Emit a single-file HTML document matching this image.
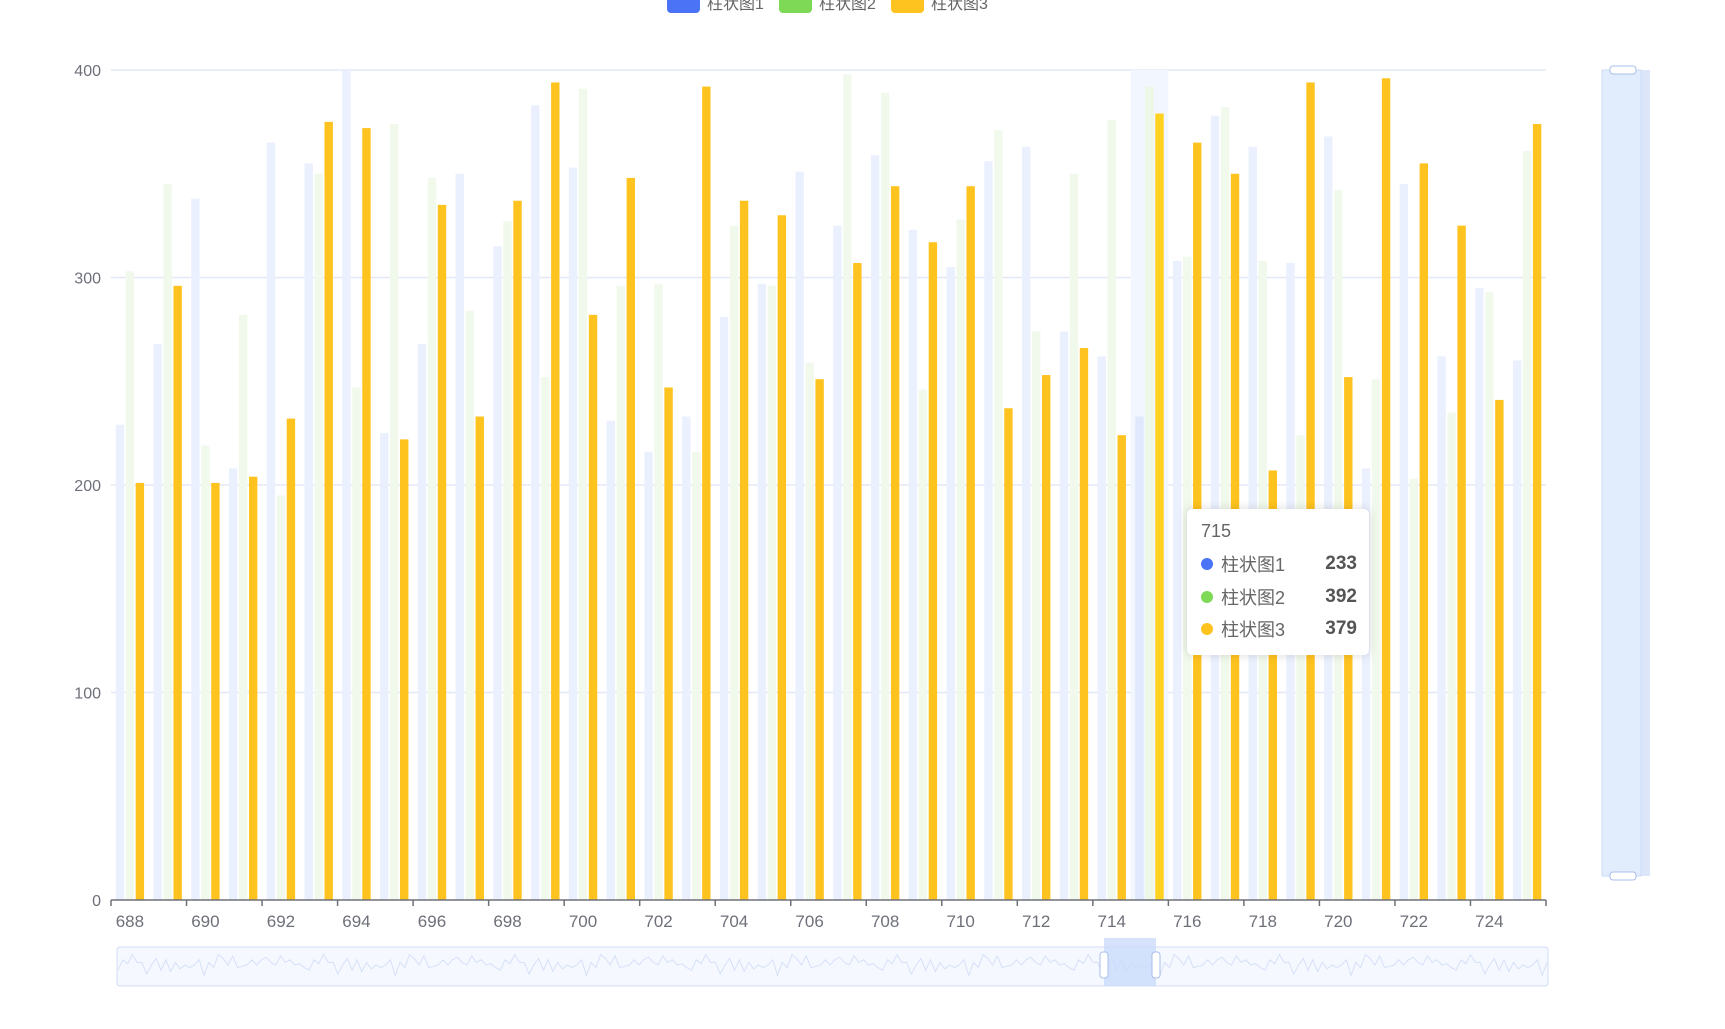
<!DOCTYPE html>
<html><head><meta charset="utf-8"><style>
html,body{margin:0;padding:0;background:#fff;width:1725px;height:1029px;overflow:hidden;font-family:"Liberation Sans","Noto Sans CJK SC",sans-serif}
.row{position:absolute;left:14px;width:156px;display:flex;align-items:center;height:24px}
.row b{margin-left:auto;color:#555;font-size:19px}
.dot{display:inline-block;width:12px;height:12px;border-radius:6px;margin-right:8px}
</style></head><body>
<svg id="chart" width="1725" height="1029" viewBox="0 0 1725 1029" style="position:absolute;left:0;top:0"></svg>
<div style="position:absolute;left:1187px;top:509px;width:182px;height:146px;background:#fff;border-radius:5px;box-shadow:0 0 10px rgba(0,0,0,0.15);font-family:'Liberation Sans','Noto Sans CJK SC',sans-serif;color:#666;font-size:18px;">
  <div style="position:absolute;left:14px;top:12px">715</div>
  <div class="row" style="top:43px"><span class="dot" style="background:#4a74f5"></span>柱状图1<b>233</b></div>
  <div class="row" style="top:76px"><span class="dot" style="background:#7ed957"></span>柱状图2<b>392</b></div>
  <div class="row" style="top:108px"><span class="dot" style="background:#ffc31f"></span>柱状图3<b>379</b></div>
</div>
<script>
const categories = [688,689,690,691,692,693,694,695,696,697,698,699,700,701,702,703,704,705,706,707,708,709,710,711,712,713,714,715,716,717,718,719,720,721,722,723,724,725];
const series1 = [229,268,338,208,365,355,400,225,268,350,315,383,353,231,216,233,281,297,351,325,359,323,305,356,363,274,262,233,308,378,363,307,368,208,345,262,295,260];
const series2 = [303,345,219,282,195,350,247,374,348,284,327,252,391,296,297,216,325,296,259,398,389,246,328,371,274,350,376,392,310,382,308,224,342,251,203,235,293,361];
const series3 = [201,296,201,204,232,375,372,222,335,233,337,394,282,348,247,392,337,330,251,307,344,317,344,237,253,266,224,379,365,350,207,394,252,396,355,325,241,374];
const yTicks = [0,100,200,300,400];
const seriesNames = ['柱状图1','柱状图2','柱状图3'];
const sparkVals = [3,8,2,9,5,7,1,6,9,4,8,2,7,5,9,3,6,8,1,7,4,9,6,2,8,5,3,9,7,1,6,8,4,2,9,5,7,3,8,6];

const NS='http://www.w3.org/2000/svg';
const svg=document.getElementById('chart');
function mk(tag,attrs,parent){const e=document.createElementNS(NS,tag);for(const k in attrs)e.setAttribute(k,attrs[k]);(parent||svg).appendChild(e);return e;}
const X0=111,X1=1546,Y0=900,Y1=70,YMAX=400;
const band=(X1-X0)/categories.length;
const y=v=>Y0-(v/YMAX)*(Y0-Y1);
const xb=i=>X0+i*band;

yTicks.forEach(t=>{
  if(t>0){const g=mk('line',{x1:X0,x2:X1,y1:y(t),y2:y(t),stroke:'#e3e8f7','stroke-width':1.5});
  
  }
  const l=mk('text',{x:X0-10,y:y(t)+6,'text-anchor':'end','font-size':16,fill:'#6e7079'});
  l.textContent=t;
  
  
});
const hi=categories.indexOf(715);
const sh=mk('rect',{x:xb(hi),y:Y1,width:band,height:Y0-Y1,fill:'#f2f6fe'});



const bw=8.4,gap=1.6,gw=3*bw+2*gap;
const cols=['#eaf0fd','#f1f9ec','#ffc31f'];
const colsHi=['#dfe8fc','#edf7e6','#ffd21f'];
[series1,series2,series3].forEach((s,si)=>{
  s.forEach((v,i)=>{
    const x=xb(i)+(band-gw)/2+si*(bw+gap);
    const r=mk('rect',{x:x,y:y(v),width:bw,height:Y0-y(v),fill:i===hi?colsHi[si]:cols[si]});
    
    
  });
});
const ax=mk('line',{x1:X0,x2:X1,y1:Y0,y2:Y0,stroke:'#6e7079','stroke-width':1.5});


for(let i=0;i<=categories.length;i+=2){
  const tk=mk('line',{x1:xb(i),x2:xb(i),y1:Y0,y2:Y0+6,stroke:'#6e7079','stroke-width':1.5});
  
  
}
categories.forEach((c,i)=>{
  if(i%2)return;
  const t=mk('text',{x:xb(i)+band/2,y:Y0+27,'text-anchor':'middle','font-size':17,fill:'#6e7079'});
  t.textContent=c;
  
  
});
const lc=['#4a74f5','#7ed957','#ffc31f'];const lx=[667,779,891];
seriesNames.forEach((n,i)=>{
  const g=mk('g',{});
  
  
  mk('rect',{x:lx[i],y:-6,width:33,height:19,rx:4,fill:lc[i]},g);
  const t=mk('text',{x:lx[i]+40,y:9,'font-size':16,fill:'#666'},g);t.textContent=n;
});
const sl=mk('g',{});


mk('rect',{x:117,y:947,width:1431,height:39,rx:3,fill:'#f5f8fe',stroke:'#d2dcf5'},sl);
let d='';const n=300;
for(let k=0;k<n;k++){const v=sparkVals[(k*7)%sparkVals.length]*0.5+sparkVals[k%sparkVals.length]*0.5;const px=118+k*1429/(n-1);const py=978-v*2.6;d+=(k?'L':'M')+px.toFixed(1)+' '+py.toFixed(1);}
mk('path',{d:d,fill:'none',stroke:'#d6e0f8','stroke-width':1},sl);
mk('rect',{x:1104,y:938,width:52,height:48,fill:'#c9dbfb',opacity:0.8},sl);
mk('rect',{x:1104,y:938,width:52,height:8,fill:'#d6e3fb'},sl);
mk('rect',{x:1100,y:952,width:8,height:26,rx:3,fill:'#fff',stroke:'#a9bde8'},sl);
mk('rect',{x:1152,y:952,width:8,height:26,rx:3,fill:'#fff',stroke:'#a9bde8'},sl);
const vs=mk('g',{});


mk('rect',{x:1602,y:70,width:48,height:806,fill:'#dce6f8'},vs);
mk('rect',{x:1602,y:70,width:39,height:806,fill:'#e1edfd',stroke:'#cbd9f5'},vs);
mk('rect',{x:1610,y:66,width:26,height:8,rx:3,fill:'#fff',stroke:'#a9bde8'},vs);
mk('rect',{x:1610,y:872,width:26,height:8,rx:3,fill:'#fff',stroke:'#a9bde8'},vs);
</script>
</body></html>
